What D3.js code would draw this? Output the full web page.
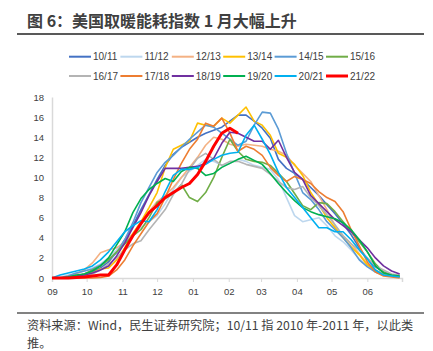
<!DOCTYPE html>
<html>
<head>
<meta charset="utf-8">
<script src="https://cdn.jsdelivr.net/npm/d3@7"></script>
<style>
  body { margin: 0; background: #fff; }
  svg { display: block; }
</style>
</head>
<body>
<svg id="chart" width="433" height="351"></svg>
<script>
// weekly heating-demand index, Sep -> end of Jun
const seasons = ["10/11","11/12","12/13","13/14","14/15","15/16","16/17","17/18","18/19","19/20","20/21","21/22"];
const colors  = ["#4472C4","#BDD7EE","#F4B183","#FFC000","#5B9BD5","#70AD47","#B4B4B4","#ED7D31","#7030A0","#00B050","#00B0F0","#FF0000"];
const months  = ["09","10","11","12","01","02","03","04","05","06"];
const monthDays = [30,31,30,31,31,28,31,30,31,30];
const yTicks = [0,2,4,6,8,10,12,14,16,18];

const v1011 = [0,0,0.1,0.2,0.4,0.6,1.0,1.6,2.6,3.8,5.2,6.8,8.3,9.8,11.2,12.3,13.0,13.5,14.0,14.4,14.7,15.0,15.6,16.2,16.2,15.6,14.9,13.9,11.8,10.9,10.4,9.8,9.0,8.2,7.3,6.4,5.4,4.3,3.0,1.9,1.1,0.6,0.3,0.2];
const v1112 = [0,0.1,0.3,0.5,0.7,1.0,1.4,2.0,2.8,3.6,4.4,5.0,5.6,6.2,7.4,8.8,10.0,10.6,11.2,11.8,11.6,11.2,11.4,11.8,11.6,11.2,11.0,10.8,9.8,8.0,6.2,5.6,5.8,6.0,5.2,4.2,3.6,2.8,1.9,1.2,0.6,0.3,0.2,0.1];
const v1213 = [0,0,0.2,0.4,0.8,1.5,2.5,2.8,3.0,3.6,4.4,5.6,6.6,7.6,8.2,9.0,10.0,11.0,12.0,13.2,14.0,13.8,13.3,13.1,13.3,13.2,13.1,12.8,12.6,12.2,11.2,10.4,9.6,8.2,6.8,5.2,4.2,3.4,2.4,1.4,0.8,0.4,0.3,0.2];
const v1314 = [0,0,0.1,0.2,0.3,0.5,0.9,1.0,1.8,3.0,4.4,5.6,7.0,8.5,11.0,12.8,13.2,13.6,15.4,15.2,15.1,15.9,15.4,16.2,17.0,15.6,15.2,14.2,12.4,12.0,11.3,10.2,8.5,7.3,6.0,5.0,4.0,3.1,2.3,1.3,0.7,0.4,0.2,0.1];
const v1415 = [0,0,0.2,0.5,0.7,0.9,1.3,1.8,2.5,3.8,5.5,7.5,9.0,10.5,11.5,12.2,13.0,13.8,14.5,15.2,15.0,14.4,13.8,13.2,13.6,15.2,16.5,16.4,14.8,12.4,10.4,8.5,7.8,6.8,5.6,4.8,4.0,3.0,1.8,1.1,0.6,0.3,0.2,0.1];
const v1516 = [0,0,0.1,0.2,0.4,0.8,1.2,1.8,2.6,3.4,4.2,4.8,6.0,7.5,7.9,8.4,9.3,8.0,7.6,8.5,10.0,12.0,13.8,12.6,11.8,11.6,11.5,11.2,10.4,9.6,8.4,7.2,6.8,7.5,7.4,6.6,5.6,4.6,3.6,2.6,1.4,0.6,0.3,0.2];
const v1617 = [0,0,0,0.1,0.2,0.4,0.8,1.4,2.0,2.8,3.4,3.7,4.8,5.8,6.8,8.3,9.3,10.8,11.9,12.4,11.8,11.2,11.6,11.6,11.3,11.1,10.9,10.3,9.6,9.0,8.8,9.1,8.0,7.2,6.3,5.3,4.2,3.4,2.8,2.0,1.2,0.8,0.4,0.3];
const v1718 = [0,0,0,0,0,0,0.05,0.2,0.8,1.8,3.2,4.4,5.6,6.4,8.0,9.8,11.4,12.8,13.8,15.4,15.1,15.9,14.4,12.6,13.1,12.8,12.2,11.0,10.2,9.6,10.1,9.8,9.4,8.6,8.0,7.6,6.6,4.8,3.2,1.6,0.6,0.2,0.1,0];
const v1819 = [0,0,0.1,0.2,0.3,0.5,0.8,1.2,2.2,3.5,5.0,6.5,8.2,9.6,10.9,10.9,10.9,11.0,11.1,11.4,11.9,13.4,14.5,14.4,14.0,13.6,13.6,12.8,13.7,12.0,10.5,9.8,8.2,7.4,6.6,5.8,5.2,4.6,3.8,3.0,2.0,1.2,0.7,0.4];
const v1920 = [0,0,0.1,0.3,0.4,0.7,1.2,2.0,3.3,4.6,6.5,7.9,8.8,9.4,9.9,9.6,10.6,11.0,10.9,10.2,10.4,11.0,11.4,11.8,12.1,11.7,11.3,10.4,9.4,8.5,7.7,7.0,6.6,6.3,6.1,5.9,5.5,4.8,3.8,2.6,1.2,0.5,0.3,0.2];
const v2021 = [0,0.3,0.5,0.7,0.9,1.2,1.8,2.6,3.6,4.6,5.2,5.7,5.6,6.8,8.6,10.2,10.8,10.8,11.0,11.3,11.8,12.2,12.4,12.5,14.2,15.2,13.8,12.3,10.5,9.0,8.0,7.0,6.0,5.0,5.0,4.6,4.6,3.8,2.8,1.9,0.8,0.3,0.2,0.1];
const v2122 = [0,0,0,0.05,0.1,0.2,0.3,0.3,1.3,2.8,4.2,5.4,6.5,7.2,8.0,8.5,9.0,9.4,10.3,11.6,13.1,14.4,14.9,14.4];

const series = [v1011,v1112,v1213,v1314,v1415,v1516,v1617,v1718,v1819,v1920,v2021,v2122];

const svg = d3.select('#chart');
const cjk = '"Noto Sans CJK SC", "Noto Sans", sans-serif';
const latin = '"Liberation Sans", Arial, sans-serif';

// month start positions in weeks
const monthStart = [0];
monthDays.forEach(d => monthStart.push(monthStart[monthStart.length - 1] + d / 7));
const weeks = monthStart[monthStart.length - 1];

const x = d3.scaleLinear().domain([0, weeks]).range([52, 402]);
const y = d3.scaleLinear().domain([0, 18]).range([278, 97]);

// title
svg.append('text')
    .attr('x', 27).attr('y', 27)
    .attr('font-family', cjk).attr('font-size', 16).attr('font-weight', 'bold')
    .attr('fill', '#404040')
    .text('图 6：美国取暖能耗指数 1 月大幅上升');
svg.append('line')
    .attr('x1', 17).attr('x2', 424).attr('y1', 34).attr('y2', 34)
    .attr('stroke', '#595959').attr('stroke-width', 2);

// y axis
const yAxis = svg.append('g')
    .attr('transform', `translate(${x(0)},0)`)
    .call(d3.axisLeft(y).tickValues(yTicks).tickSize(0).tickPadding(8));
yAxis.select('.domain').attr('stroke', '#D9D9D9').attr('stroke-width', 1.5);
yAxis.selectAll('text').attr('font-family', latin).attr('font-size', 9.5).attr('fill', '#404040');

// x axis
const xAxis = svg.append('g')
    .attr('transform', `translate(0,${y(0)})`)
    .call(d3.axisBottom(x).tickValues(monthStart).tickSize(4).tickPadding(6)
        .tickFormat((d, i) => months[i] || ''));
xAxis.select('.domain').attr('stroke', '#D9D9D9').attr('stroke-width', 1.5);
xAxis.selectAll('.tick line').attr('stroke', '#D9D9D9');
xAxis.selectAll('text').attr('font-family', latin).attr('font-size', 9.5).attr('fill', '#404040');

// lines
const line = d3.line().x((d, i) => x(i)).y(d => y(d));
svg.append('g').selectAll('path')
    .data(series)
    .join('path')
    .attr('d', d => line(d))
    .attr('fill', 'none')
    .attr('stroke', (d, i) => colors[i])
    .attr('stroke-width', (d, i) => i === 11 ? 3 : 1.6)
    .attr('stroke-linejoin', 'round');

// legend
const legend = svg.append('g');
seasons.forEach((s, i) => {
    const lx = 69 + (i % 6) * 51.4;
    const ly = i < 6 ? 56.7 : 76;
    legend.append('line')
        .attr('x1', lx).attr('x2', lx + 22).attr('y1', ly).attr('y2', ly)
        .attr('stroke', colors[i]).attr('stroke-width', i === 11 ? 3 : 2);
    legend.append('text')
        .attr('x', lx + 24).attr('y', ly + 3.6)
        .attr('font-family', latin).attr('font-size', 10).attr('fill', '#404040')
        .text(s);
});

// footer
svg.append('line')
    .attr('x1', 17).attr('x2', 424).attr('y1', 313).attr('y2', 313)
    .attr('stroke', '#595959').attr('stroke-width', 1.5);
svg.append('text')
    .attr('x', 27).attr('y', 329.5)
    .attr('font-family', cjk).attr('font-size', 12.2).attr('fill', '#404040')
    .text('资料来源：Wind，民生证券研究院；10/11 指 2010 年-2011 年，以此类');
svg.append('text')
    .attr('x', 27).attr('y', 347.5)
    .attr('font-family', cjk).attr('font-size', 12.2).attr('fill', '#404040')
    .text('推。');
</script>
</body>
</html>
